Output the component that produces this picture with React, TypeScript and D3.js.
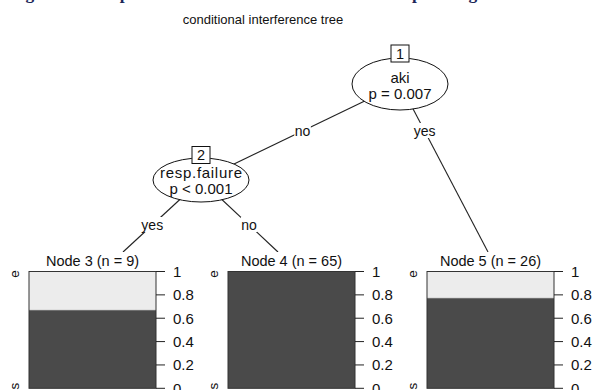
import React from "react";
import * as d3 from "d3";

// ---- data ----
const figureTitle = "Figure 2 Example of conditional inference tree for the patient grade";
const treeTitle = "conditional interference tree";
const innerIds = [1, 2];
const innerVars = ["aki", "resp.failure"];
const innerPvals = ["p = 0.007", "p < 0.001"];
const terminalIds = [3, 4, 5];
const terminalN = [9, 65, 26];
const darkShare = [0.667, 1.0, 0.77];
const classLevels = ["e", "s"];
const edgeLabels = ["no", "yes", "yes", "no"];
const yTicks = [0, 0.2, 0.4, 0.6, 0.8, 1];

// ---- layout ----
const W = 596;
const H = 390;
const FONT = "Liberation Sans, Arial, Helvetica, sans-serif";
const inner = [
  { cx: 400, cy: 84, rx: 48, ry: 26, boxY: 45, l1: 83, l2: 99, w1: 0 },
  { cx: 201, cy: 180, rx: 48, ry: 22, boxY: 146.5, l1: 177.5, l2: 194, w1: 82 },
];
const panelLeft = [29, 228, 427];
const panelW = 127;
const edgeEndX = [123, 278, 488];
const edgeEndY = 252;
const edges: { from: number; to: { kind: "inner" | "term"; i: number }; ly: number }[] = [
  { from: 0, to: { kind: "inner", i: 1 }, ly: 131 },
  { from: 0, to: { kind: "term", i: 2 }, ly: 131 },
  { from: 1, to: { kind: "term", i: 0 }, ly: 225 },
  { from: 1, to: { kind: "term", i: 1 }, ly: 225 },
];

const DARK = "#4a4a4a";
const LIGHT = "#ececec";

export default function App() {
  const y = d3.scaleLinear().domain([0, 1]).range([388.3, 271.5]);
  const textW = (s: string, size: number) => s.length * size * 0.52;

  return (
    <svg
      width={W}
      height={H}
      style={{ position: "absolute", left: 0, top: 0, background: "#fff" }}
      fontFamily={FONT}
    >
      <rect x={0} y={0} width={W} height={H} fill="#fff" />
      {/* clipped figure caption at top: only descenders remain visible */}
      <text
        x={10}
        y={-0.8}
        fontFamily="Liberation Serif, Times New Roman, serif"
        fontWeight="bold"
        fontSize={17.4}
        fill="#1c2657"
      >
        {figureTitle}
      </text>
      <text x={263} y={24} textAnchor="middle" fontSize={13} fill="#111">
        {treeTitle}
      </text>

      {/* edges */}
      {edges.map((e, k) => {
        const p = inner[e.from];
        let x2: number, y2: number;
        if (e.to.kind === "inner") {
          x2 = inner[e.to.i].cx;
          y2 = inner[e.to.i].cy;
        } else {
          x2 = edgeEndX[e.to.i];
          y2 = edgeEndY;
        }
        const t = (e.ly - p.cy) / (y2 - p.cy);
        const lx = p.cx + (x2 - p.cx) * t;
        const lab = edgeLabels[k];
        const tw = textW(lab, 14);
        return (
          <g key={"e" + k}>
            <line x1={p.cx} y1={p.cy} x2={x2} y2={y2} stroke="#222" strokeWidth={1.1} />
            <rect x={lx - tw / 2 - 1} y={e.ly - 8} width={tw + 2} height={15} fill="#fff" />
            <text x={lx} y={e.ly} textAnchor="middle" dominantBaseline="central" fontSize={14} fill="#111">
              {lab}
            </text>
          </g>
        );
      })}

      {/* inner nodes */}
      {inner.map((n, i) => (
        <g key={"n" + i}>
          <ellipse cx={n.cx} cy={n.cy} rx={n.rx} ry={n.ry} fill="#fff" stroke="#111" strokeWidth={1} />
          <rect x={n.cx - 9} y={n.boxY} width={18} height={17} fill="#fff" stroke="#111" strokeWidth={1} />
          <text x={n.cx} y={n.boxY + 8.8} textAnchor="middle" dominantBaseline="central" fontSize={14.5} fill="#111">
            {innerIds[i]}
          </text>
          <text
            x={n.cx}
            y={n.l1}
            textAnchor="middle"
            fontSize={15}
            fill="#111"
            {...(n.w1 ? { textLength: n.w1, lengthAdjust: "spacing" } : {})}
          >
            {innerVars[i]}
          </text>
          <text x={n.cx} y={n.l2} textAnchor="middle" fontSize={15} fill="#111">
            {innerPvals[i]}
          </text>
        </g>
      ))}

      {/* terminal nodes */}
      {terminalIds.map((id, i) => {
        const x0 = panelLeft[i];
        const x1 = x0 + panelW;
        const cx = x0 + panelW / 2;
        const header = `Node ${id} (n = ${terminalN[i]})`;
        const hw = textW(header, 14.5);
        return (
          <g key={"t" + i}>
            <rect x={cx - hw / 2 - 2} y={252} width={hw + 4} height={17} fill="#fff" />
            <text x={cx} y={266} textAnchor="middle" fontSize={14.5} fill="#111">
              {header}
            </text>
            <rect x={x0} y={y(1)} width={panelW} height={y(0) - y(1)} fill={DARK} />
            <rect x={x0} y={y(1)} width={panelW} height={y(darkShare[i]) - y(1)} fill={LIGHT} />
            <line x1={x0} x2={x1} y1={y(darkShare[i])} y2={y(darkShare[i])} stroke="#666" strokeWidth={0.8} />
            <rect x={x0} y={y(1)} width={panelW} height={y(0) - y(1)} fill="none" stroke="#333" strokeWidth={1} />
            {yTicks.map((v) => (
              <g key={v}>
                <line x1={x1} x2={x1 + 9} y1={y(v)} y2={y(v)} stroke="#222" strokeWidth={1} />
                <text x={x1 + 17} y={y(v)} dominantBaseline="central" fontSize={15} fill="#111">
                  {String(v)}
                </text>
              </g>
            ))}
            <text
              transform={`translate(${x0 - 15},${274}) rotate(-90)`}
              textAnchor="middle"
              dominantBaseline="central"
              fontSize={13.5}
              fill="#111"
            >
              {classLevels[0]}
            </text>
            <text
              transform={`translate(${x0 - 15},${386}) rotate(-90)`}
              textAnchor="middle"
              dominantBaseline="central"
              fontSize={13.5}
              fill="#111"
            >
              {classLevels[1]}
            </text>
          </g>
        );
      })}
    </svg>
  );
}
